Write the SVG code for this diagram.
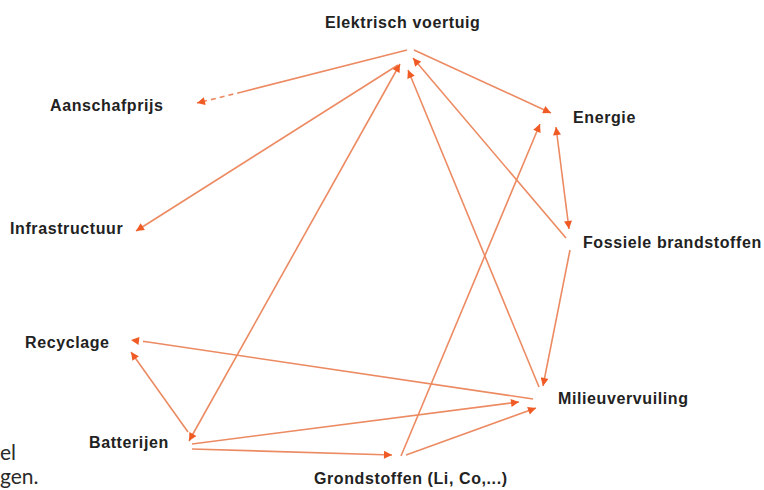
<svg xmlns="http://www.w3.org/2000/svg" width="764" height="490" viewBox="0 0 764 490">
<defs>
<marker id="ah" viewBox="0 0 10 10" refX="10" refY="5" markerWidth="9" markerHeight="8" markerUnits="userSpaceOnUse" orient="auto-start-reverse">
<path d="M0,0 L10,5 L0,10 z" fill="#f05a24"/>
</marker>
<style>
.lbl{font-family:"Liberation Sans",Arial,sans-serif;font-weight:bold;font-size:16px;letter-spacing:0.6px;fill:#222;}
.doc{font-family:Lato,"Open Sans",sans-serif;font-size:21px;fill:#2a2a2a;}
.e{fill:none;stroke:#ec8a62;stroke-width:1.6;}
.end{marker-end:url(#ah);}
.both{marker-start:url(#ah);marker-end:url(#ah);}
.dash{stroke-dasharray:5 4;}
</style>
</defs>
<rect width="764" height="490" fill="#ffffff"/>
<text class="doc" x="0" y="460">el</text>
<text class="doc" x="0" y="484">gen.</text>
<g id="edges">
<path class="e" d="M407,50 L242,92"/>
<path class="e dash end" d="M242,92 L197,103"/>
<path class="e end" d="M414,50 L551,113"/>
<path class="e end" d="M398,65 L136,231"/>
<path class="e both" d="M400,64 L189,441"/>
<path class="e end" d="M539,387 L408,70"/>
<path class="e end" d="M566,238 L413,58"/>
<path class="e both" d="M556,127 L569,229"/>
<path class="e end" d="M401,456 L540,124"/>
<path class="e end" d="M570,250 L543,386"/>
<path class="e" d="M533,399 L148,342"/>
<path class="e dash end" d="M148,342 L131,340"/>
<path class="e end" d="M188,432 L131,352"/>
<path class="e end" d="M192,444 L519,402"/>
<path class="e end" d="M192,449 L392,455"/>
<path class="e end" d="M406,455 L536,408"/>
</g>
<g id="n-ev"><text class="lbl" x="325" y="28">Elektrisch voertuig</text></g>
<g id="n-aanschafprijs"><text class="lbl" x="50" y="111">Aanschafprijs</text></g>
<g id="n-infrastructuur"><text class="lbl" x="10" y="234">Infrastructuur</text></g>
<g id="n-recyclage"><text class="lbl" x="25" y="348">Recyclage</text></g>
<g id="n-batterijen"><text class="lbl" x="89" y="448">Batterijen</text></g>
<g id="n-grondstoffen"><text class="lbl" x="314" y="484">Grondstoffen (Li, Co,...)</text></g>
<g id="n-milieuvervuiling"><text class="lbl" x="558" y="404">Milieuvervuiling</text></g>
<g id="n-fossiele"><text class="lbl" x="583" y="248">Fossiele brandstoffen</text></g>
<g id="n-energie"><text class="lbl" x="573" y="123">Energie</text></g>
</svg>
